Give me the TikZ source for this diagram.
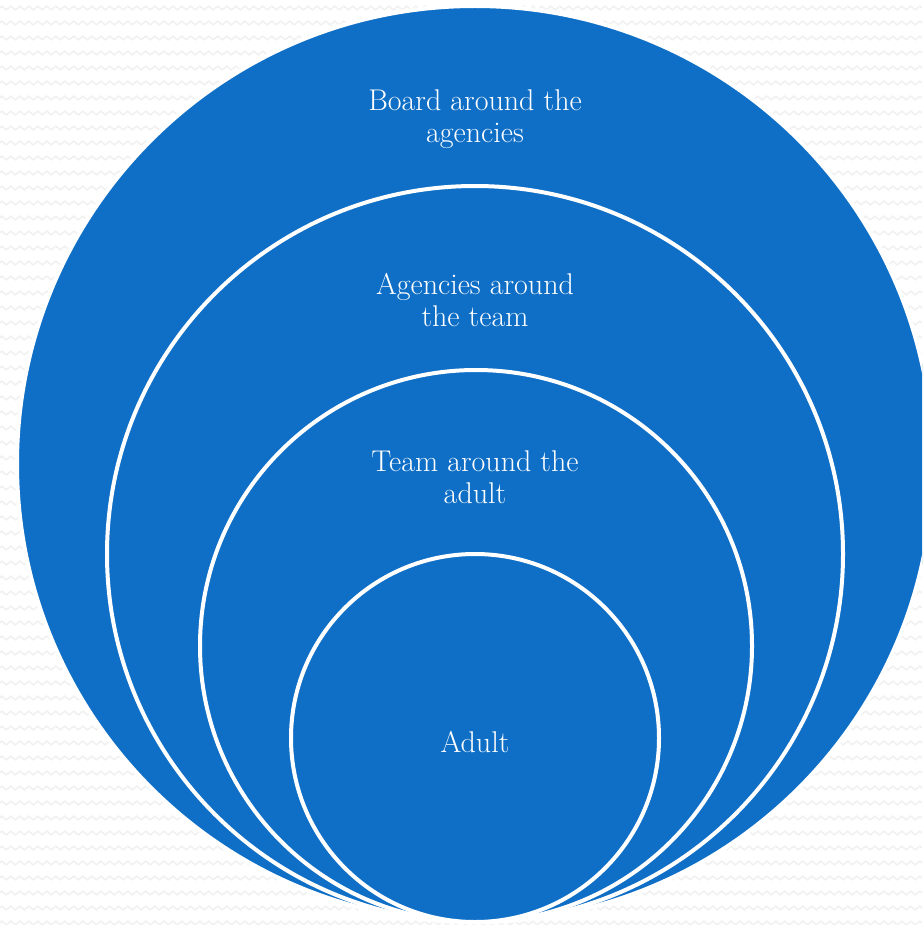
\documentclass[tikz,border=0pt]{standalone}
\usetikzlibrary{decorations.pathmorphing}
\definecolor{ringblue}{HTML}{0F6FC6}
\definecolor{paperline}{HTML}{F1F1F1}
\begin{document}
\begin{tikzpicture}[x=1pt,y=-1pt]
  \clip (0,0) rectangle (922,925);
  % faint wavy paper
  \foreach \y in {8,23,...,925}
    \draw[paperline,line width=1.6pt,decorate,
          decoration={snake,segment length=9pt,amplitude=1.8pt}]
      (-10,\y) -- (935,\y);
  \begin{scope}[shape=circle]
    \tikzstyle{every node}=[fill=ringblue,draw=white,line width=4pt,inner sep=0pt]
    \node[minimum size=916] (board)    at (475,464) {};
    \node[minimum size=736] (agencies) at (475,554) {};
    \node[minimum size=552] (team)     at (476,646) {};
    \node[minimum size=368] (adult)    at (475,738) {};
  \end{scope}
  \begin{scope}
    \tikzstyle{every node}=[text=white,align=center,font=\fontsize{30}{32}\selectfont]
    \node (lboard)    at (475,119) {Board around the\\agencies};
    \node (lagencies) at (475,300) {Agencies around\\the team};
    \node (lteam)     at (475,477) {Team around the\\adult};
    \node (ladult)    at (475,742) {Adult};
  \end{scope}
\end{tikzpicture}
\end{document}
